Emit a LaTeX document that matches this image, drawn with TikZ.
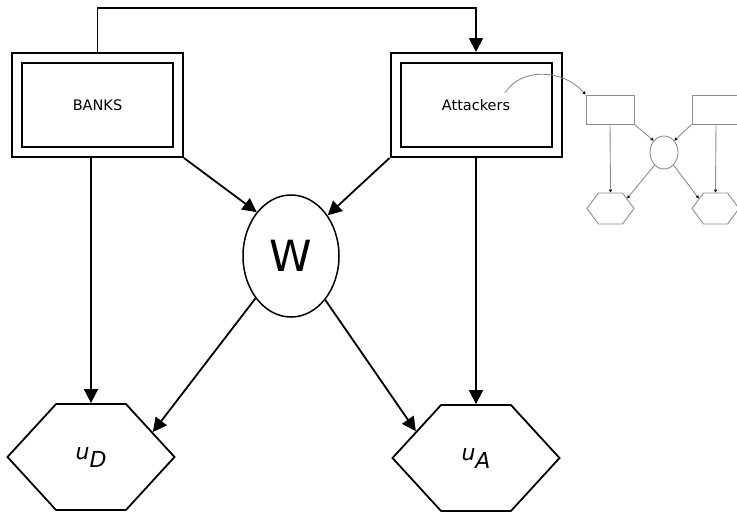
\documentclass[tikz,border=0pt]{standalone}
\usepackage{fontspec}
\setmainfont{DejaVu Sans}
\usetikzlibrary{arrows.meta,shapes.geometric,shapes.symbols}

\tikzset{
	twobox/.style={draw, double, double distance=8pt, line width=2pt, outer sep=6pt,
		minimum width=161pt, minimum height=94pt, font=\fontsize{14.5}{14.5}\selectfont},
	chance/.style={draw, ellipse, line width=1.5pt, inner sep=0pt,
		minimum width=96pt, minimum height=122pt, font=\fontsize{43}{43}\selectfont},
	payoff/.style={draw, signal, signal to=west and east, signal pointer angle=95,
		line width=1.8pt, inner sep=0pt, minimum width=167pt, minimum height=106pt,
		font=\fontsize{22}{22}\selectfont\itshape},
	link/.style={line width=1.8pt, -{Triangle[length=14pt,width=14pt]}},
	minibox/.style={draw=black!45, line width=0.9pt, minimum width=48pt, minimum height=29pt},
	miniell/.style={draw=black!45, ellipse, line width=0.9pt, minimum width=28pt, minimum height=33pt},
	minihex/.style={draw=black!45, signal, signal to=west and east, signal pointer angle=107,
		line width=0.9pt, inner sep=0pt, minimum width=47pt, minimum height=31pt},
	minilink/.style={draw=black!45, line width=0.9pt, -{Triangle[length=3pt,width=3pt,color=black]}}
}

\begin{document}
\begin{tikzpicture}[x=1pt, y=-1pt]
	%%%%% FRAME %%%%%
	\useasboundingbox (0, 0) rectangle (737, 512);
	\clip (0, 0) rectangle (737, 512);
	
	%%%%% MAIN NODES %%%%%
	\node[twobox] (banks) at (97.5, 105) {BANKS};
	\node[twobox] (attackers) at (476, 105) {Attackers};
	\node[chance] (w) at (291, 256) {W};
	\node[payoff] (ud) at (91, 457) {u\raisebox{-8pt}{D}};
	\node[payoff] (ua) at (476, 458) {u\raisebox{-8pt}{A}};
	
	\coordinate (top) at (0, 8);
	\coordinate (curl) at (505, 93);
	
	%%%%% MAIN LINKS %%%%%
	\draw[link] (banks.north) |- (attackers.north |- top) -- (attackers.north);
	\draw[link] (banks.south -| ud.north) -- (ud.north);
	\draw[link] (attackers.south -| ua.north) -- (ua.north);
	\draw[link] (banks.south east) -- (w.128);
	\draw[link] (attackers.south west) -- (w.48);
	\draw[link] (w.230) -- (ud.22);
	\draw[link] (w.308) -- (ua.156);
	
	%%%%% SMALL COPY %%%%%
	\node[minibox] (mleft) at (610, 109.5) {};
	\node[minibox] (mright) at (716, 109.5) {};
	\node[miniell] (mw) at (664, 152.5) {};
	\node[minihex] (mhexl) at (610.5, 208.5) {};
	\node[minihex] (mhexr) at (715.5, 208.5) {};
	
	\draw[minilink] (mleft.south) -- (mhexl.north);
	\draw[minilink] (mright.south) -- (mhexr.north);
	\draw[minilink] (mleft.south east) -- (mw.131);
	\draw[minilink] (mright.south west) -- (mw.49);
	\draw[minilink] (mw.233) -- (mhexl.31);
	\draw[minilink] (mw.307) -- (mhexr.149);
	
	\draw[minilink] (curl) .. controls (520, 68) and (562, 68) .. (mleft.north west);
\end{tikzpicture}
\end{document}
